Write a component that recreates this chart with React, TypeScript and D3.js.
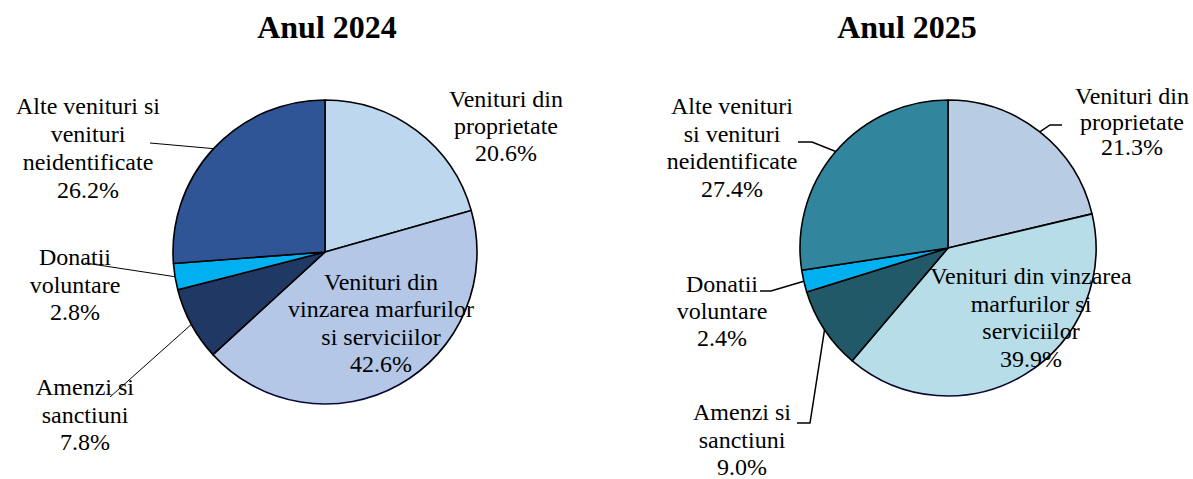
import React from "react";
import * as d3 from "d3";

const categories = [
  "Venituri din proprietate",
  "Venituri din vinzarea marfurilor si serviciilor",
  "Amenzi si sanctiuni",
  "Donatii voluntare",
  "Alte venituri si venituri neidentificate",
];
const values2024 = [20.6, 42.6, 7.8, 2.8, 26.2];
const values2025 = [21.3, 39.9, 9.0, 2.4, 27.4];
const colors2024 = ["#BDD7EE", "#B4C7E7", "#203864", "#00B0F0", "#2F5597"];
const colors2025 = ["#B8CCE4", "#B7DEE8", "#215968", "#00B0F0", "#31859C"];
const titles = ["Anul 2024", "Anul 2025"];

// label line splits (text only)
const lines2024 = [
  ["Venituri din", "proprietate"],
  ["Venituri din", "vinzarea marfurilor", "si serviciilor"],
  ["Amenzi si", "sanctiuni"],
  ["Donatii", "voluntare"],
  ["Alte venituri si", "venituri", "neidentificate"],
];
const lines2025 = [
  ["Venituri din", "proprietate"],
  ["Venituri din vinzarea", "marfurilor si", "serviciilor"],
  ["Amenzi si", "sanctiuni"],
  ["Donatii", "voluntare"],
  ["Alte venituri", "si venituri", "neidentificate"],
];

// layout (positions only)
type Lab = { x: number; y: number; lh: number; leader?: number[][] };
const layout2024: Lab[] = [
  { x: 506, y: 107, lh: 27 },
  { x: 381, y: 290, lh: 27.3 },
  { x: 85, y: 395, lh: 27.5, leader: [[110, 397]] },
  { x: 75, y: 265, lh: 27.5, leader: [[85, 263]] },
  { x: 88, y: 114, lh: 28, leader: [[150, 143]] },
];
const layout2025: Lab[] = [
  { x: 1132, y: 104, lh: 25.5, leader: [[1050, 125], [1062, 125]] },
  { x: 1031, y: 284, lh: 27.5 },
  { x: 742, y: 420, lh: 27.5, leader: [[810, 423], [797, 423]] },
  { x: 722, y: 292, lh: 27, leader: [[771, 291], [760, 291]] },
  { x: 732, y: 114, lh: 27.7, leader: [[812, 142], [798, 142]] },
];

const pies = [
  { cx: 325, cy: 252, r: 152, values: values2024, colors: colors2024, lines: lines2024, layout: layout2024, titleX: 327, leaderW: 1 },
  { cx: 948, cy: 248, r: 148, values: values2025, colors: colors2025, lines: lines2025, layout: layout2025, titleX: 907, leaderW: 1.5 },
];

const FONT = "'Liberation Serif', 'Times New Roman', serif";

export default function App() {
  const W = 1193, H = 479;
  return (
    <svg width={W} height={H} style={{ position: "absolute", left: 0, top: 0, background: "#fff" }}>
      <defs>
        {pies.map((p, i) => (
          <linearGradient key={i} id={`sg${i}`} gradientUnits="userSpaceOnUse" x1={p.cx} y1={p.cy - p.r} x2={p.cx} y2={p.cy + p.r}>
            <stop offset="0" stopColor="#000000" />
            <stop offset="0.45" stopColor="#1a1aa0" />
            <stop offset="0.65" stopColor="#2020c8" />
            <stop offset="1" stopColor="#7030A0" />
          </linearGradient>
        ))}
      </defs>
      {pies.map((p, pi) => {
        const pieGen = d3.pie<number>().sort(null).value((d) => d).startAngle(0).endAngle(2 * Math.PI);
        const arcs = pieGen(p.values);
        const arcGen = d3.arc<d3.PieArcDatum<number>>().innerRadius(0).outerRadius(p.r);
        return (
          <g key={pi}>
            <text x={p.titleX} y={38} textAnchor="middle" fontFamily={FONT} fontWeight="bold" fontSize={32}>
              {titles[pi]}
            </text>
            <g transform={`translate(${p.cx},${p.cy})`}>
              {arcs.map((a, i) => (
                <path key={i} d={arcGen(a) || ""} fill={p.colors[i]} stroke={`url(#sg${pi})`} strokeWidth={1.6} strokeLinejoin="round" />
              ))}
            </g>
            {arcs.map((a, i) => {
              const L = p.layout[i];
              if (!L.leader) return null;
              const mid = (a.startAngle + a.endAngle) / 2;
              const sx = p.cx + p.r * Math.sin(mid);
              const sy = p.cy - p.r * Math.cos(mid);
              const pts = [[sx, sy], ...L.leader];
              return (
                <polyline key={"l" + i} points={pts.map((q) => q.join(",")).join(" ")} fill="none" stroke="#000" strokeWidth={p.leaderW} />
              );
            })}
            {arcs.map((a, i) => {
              const L = p.layout[i];
              const txt = [...p.lines[i], `${p.values[i].toFixed(1)}%`];
              return (
                <text key={"t" + i} textAnchor="middle" fontFamily={FONT} fontSize={24} fill="#000">
                  {txt.map((t, k) => (
                    <tspan key={k} x={L.x} y={L.y + k * L.lh}>{t}</tspan>
                  ))}
                </text>
              );
            })}
          </g>
        );
      })}
    </svg>
  );
}
